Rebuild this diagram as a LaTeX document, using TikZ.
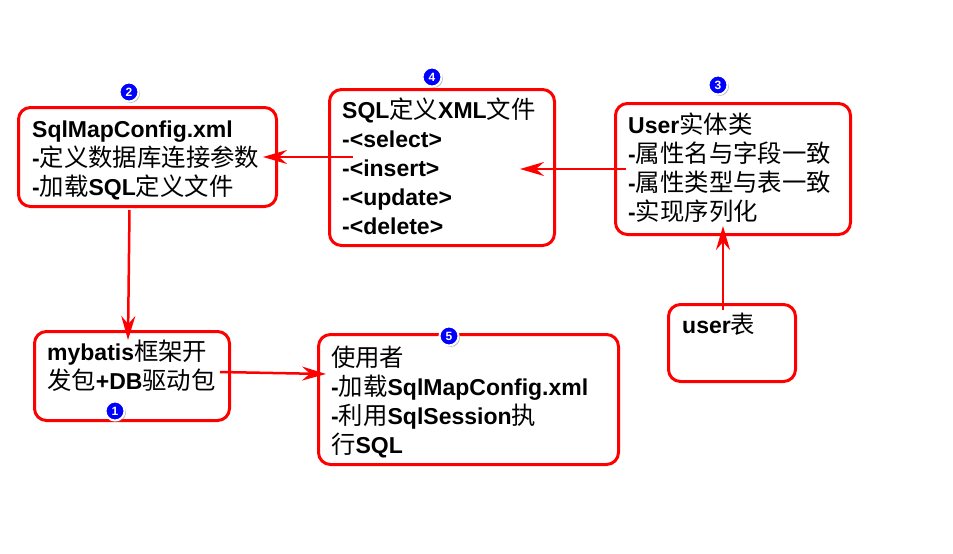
\documentclass[tikz,border=0pt]{standalone}
\usepackage{fontspec}
\setmainfont{Liberation Sans}
\newfontfamily\zhfont{Noto Sans CJK SC}[Scale=1.06]
\newcommand\zh[1]{{\zhfont\mdseries #1}}
\usetikzlibrary{arrows.meta,calc,shadows}

\tikzset{
  box/.style={draw=red, line width=3pt, rounded corners=12pt, fill=white},
  % base of a multi-line node is its last line
  txt/.style={anchor=base west, align=left, inner sep=0pt,
    font=\bfseries\fontsize{23}{29}\selectfont},
  num/.style={circle, fill=blue, draw=white, line width=2pt, minimum size=19pt,
    inner sep=0pt, text=white, font=\bfseries\fontsize{12}{12}\selectfont,
    drop shadow={opacity=0.5, fill=gray, shadow xshift=1.5pt, shadow yshift=-1.5pt}},
  arr/.style={draw=red, line width=2.5pt, -{Stealth[length=24pt,width=14pt,inset=8pt]}},
}

\begin{document}
\begin{tikzpicture}[x=1pt,y=-1pt]
  \useasboundingbox (0,0) rectangle (953,554);

  \node[box, minimum width=258, minimum height=99] (cfg) at (147.5,157) {};
  \node[box, minimum width=225, minimum height=156] (sql) at (442,167.5) {};
  \node[box, minimum width=235, minimum height=131] (ent) at (733,169) {};
  \node[box, minimum width=195, minimum height=89] (mb) at (132,376) {};
  \node[box, minimum width=300, minimum height=130] (usr) at (468.5,399.5) {};
  \node[box, minimum width=127, minimum height=77] (tbl) at (732,343) {};

  \node[txt] (cfgtxt) at (32,195.5) {SqlMapConfig.xml\\-\zh{定义数据库连接参数}\\-\zh{加载}SQL\zh{定义文件}};
  \node[txt] (sqltxt) at (342,234) {SQL\zh{定义}XML\zh{文件}\\-<select>\\-<insert>\\-<update>\\-<delete>};
  \node[txt] (enttxt) at (628,220) {User\zh{实体类}\\-\zh{属性名与字段一致}\\-\zh{属性类型与表一致}\\-\zh{实现序列化}};
  \node[txt] (mbtxt) at (47,389) {mybatis\zh{框架开}\\\zh{发包}+DB\zh{驱动包}};
  \node[txt] (usrtxt) at (331,453) {\zh{使用者}\\-\zh{加载}SqlMapConfig.xml\\-\zh{利用}SqlSession\zh{执}\\\zh{行}SQL};
  \node[txt] (tbltxt) at (682,333) {user\zh{表}};

  \draw[arr] ($(sql.west |- cfg.east)+(25,0)$) -- ($(cfg.east)+(-15,0)$);
  \draw[arr] ($(ent.west)+(12,0)$) -- ($(sql.east |- ent.west)+(-36,0)$);
  \draw[arr] ($(tbl.north)+(-9,7)$) -- ($(ent.south)+(-10,-10)$);
  \draw[arr] ($(cfg.south)+(-18,2)$) -- ($(mb.north)+(-4,10)$);
  \draw[arr] ($(mb.east)+(-11,-4)$) -- ($(usr.west)+(9,-25.5)$);

  \node[num] (n1) at (115,411) {1};
  \node[num] (n2) at (129,92) {2};
  \node[num] (n3) at (718,85) {3};
  \node[num] (n4) at (432,77) {4};
  \node[num] (n5) at (449,336) {5};
\end{tikzpicture}
\end{document}
